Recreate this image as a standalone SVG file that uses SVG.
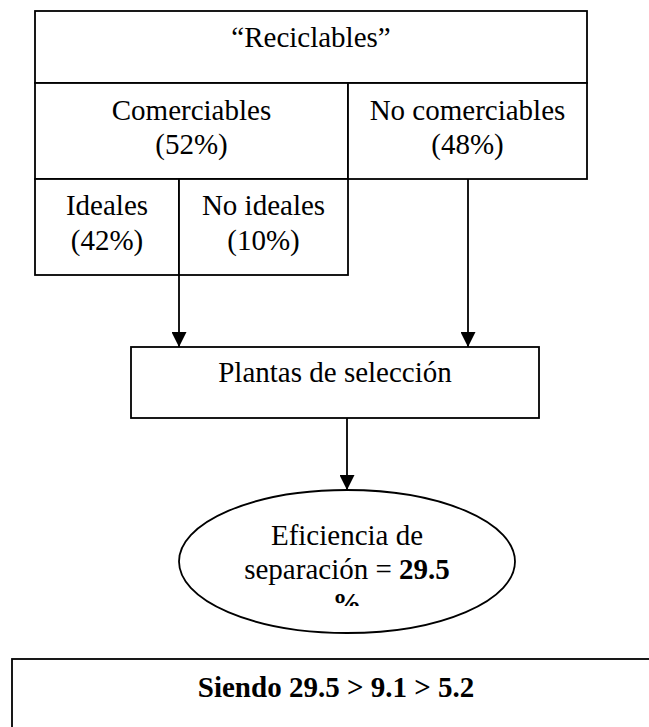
<svg xmlns="http://www.w3.org/2000/svg" width="649" height="727" viewBox="0 0 649 727">
<style>
.box{fill:#fff;stroke:#000;stroke-width:1.8}
.t{font-family:"Liberation Serif","Times New Roman",serif;font-size:29px;fill:#000;text-anchor:middle}
.b{font-weight:bold}
.c{stroke:#000;stroke-width:1.8;fill:none}
</style>
<defs>
<marker id="ah" viewBox="0 0 10 10" refX="10" refY="5" markerWidth="15" markerHeight="15" markerUnits="userSpaceOnUse" orient="auto">
<path d="M0,0 L10,5 L0,10 z" fill="#000"/>
</marker>
<clipPath id="ellclip"><rect x="180" y="490" width="335" height="116"/></clipPath>
</defs>
<rect width="649" height="727" fill="#fff"/>
<g id="reciclables">
<rect class="box" x="35" y="11" width="552" height="72"/>
<text class="t" x="311" y="47">“Reciclables”</text>
</g>
<g id="comerciables">
<rect class="box" x="35" y="83" width="313" height="96"/>
<text class="t" x="191.5" y="120">Comerciables</text>
<text class="t" x="191.5" y="154">(52%)</text>
</g>
<g id="no-comerciables">
<rect class="box" x="348" y="83" width="239" height="96"/>
<text class="t" x="467.5" y="120">No comerciables</text>
<text class="t" x="467.5" y="154">(48%)</text>
</g>
<g id="ideales">
<rect class="box" x="35" y="179" width="144" height="96"/>
<text class="t" x="107" y="215">Ideales</text>
<text class="t" x="107" y="250">(42%)</text>
</g>
<g id="no-ideales">
<rect class="box" x="179" y="179" width="169" height="96"/>
<text class="t" x="263.5" y="215">No ideales</text>
<text class="t" x="263.5" y="250">(10%)</text>
</g>
<g id="connectors">
<line class="c" x1="179" y1="275" x2="179" y2="347" marker-end="url(#ah)"/>
<line class="c" x1="468" y1="179" x2="468" y2="347" marker-end="url(#ah)"/>
<line class="c" x1="347" y1="418" x2="347" y2="490" marker-end="url(#ah)"/>
</g>
<g id="plantas">
<rect class="box" x="131" y="347" width="408" height="71"/>
<text class="t" x="335" y="382">Plantas de selección</text>
</g>
<g id="eficiencia">
<ellipse class="box" cx="347" cy="561.5" rx="168" ry="71.5"/>
<g clip-path="url(#ellclip)">
<text class="t" x="347" y="545">Eficiencia de</text>
<text class="t" x="347" y="579">separación = <tspan class="b">29.5</tspan></text>
<text class="t b" x="347" y="613">%</text>
</g>
</g>
<g id="siendo">
<rect class="box" x="12" y="659" width="700" height="100" stroke-width="2.2"/>
<text class="t b" x="336" y="697">Siendo 29.5 &gt; 9.1 &gt; 5.2</text>
</g>
</svg>
